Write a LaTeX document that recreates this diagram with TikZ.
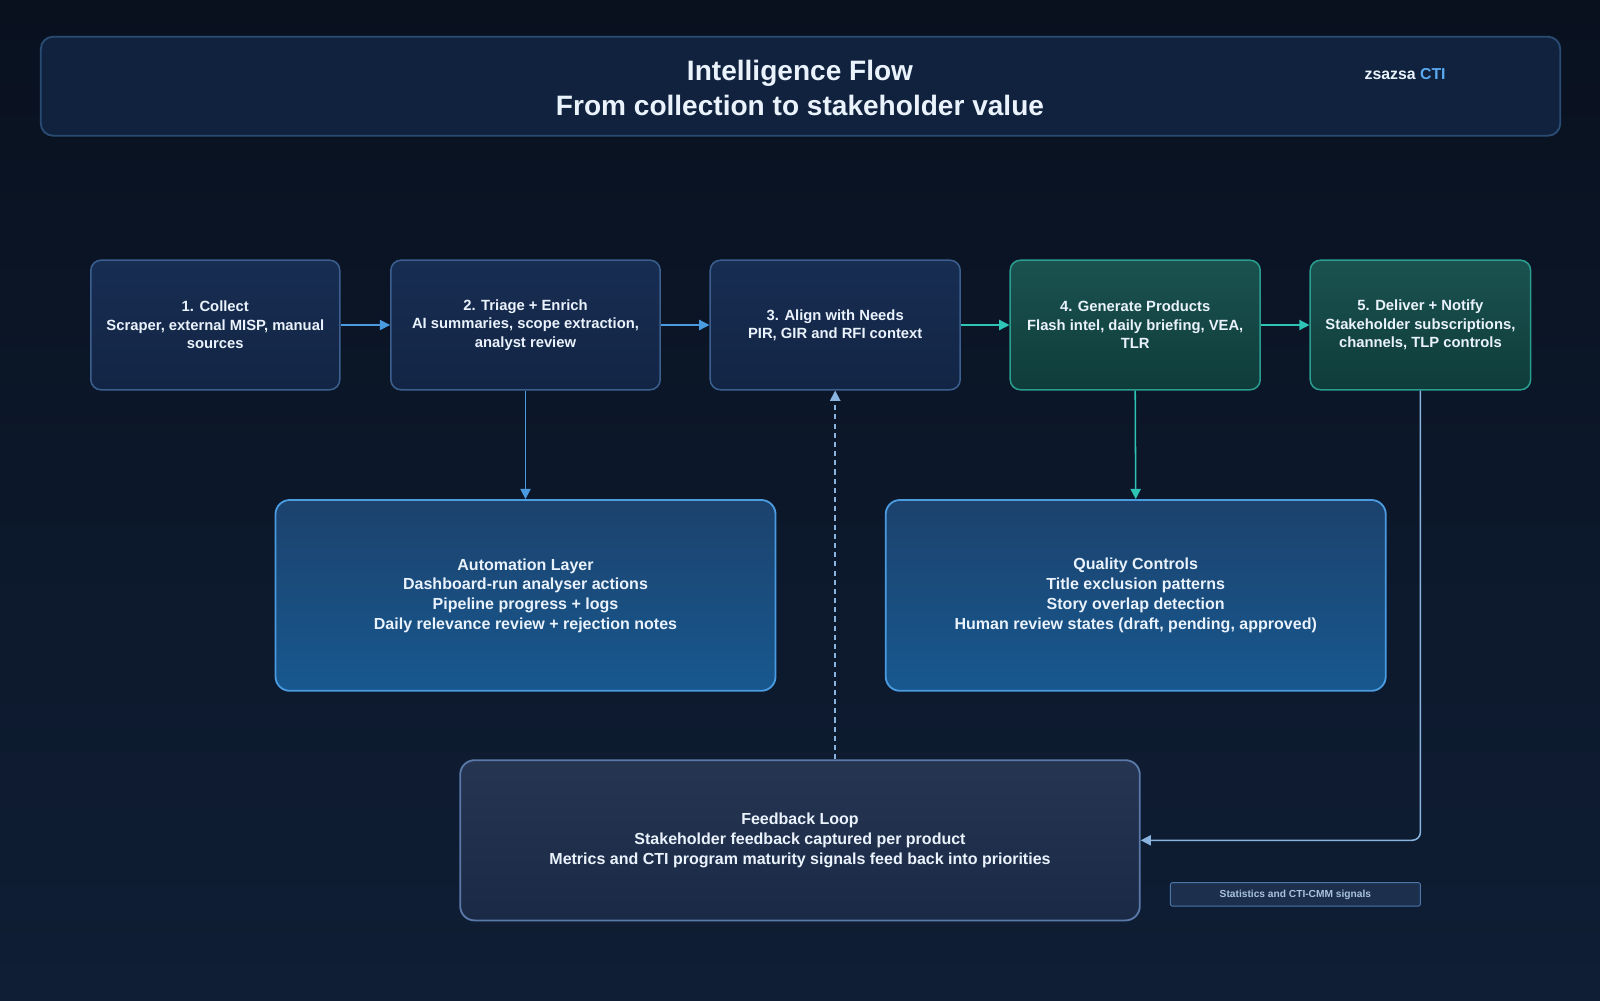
\documentclass[tikz,border=0pt]{standalone}
\usepackage{fontspec}
\setmainfont{Liberation Sans}
\usetikzlibrary{arrows.meta}
\definecolor{bgtop}{HTML}{09111F}
\definecolor{bgbot}{HTML}{0F1E35}
\definecolor{txt}{HTML}{EAF2FC}
\definecolor{blu}{HTML}{4A9BE0}
\definecolor{brandc}{HTML}{5AAAF0}
\definecolor{teal}{HTML}{2EC4B6}
\definecolor{fb}{HTML}{8AB4E0}
\definecolor{hdrd}{HTML}{2A4C74}
\definecolor{hdrf}{HTML}{10223D}
\definecolor{bsd}{HTML}{3B5F8E}
\definecolor{bst}{HTML}{172D52}
\definecolor{bsb}{HTML}{132545}
\definecolor{gsd}{HTML}{2A9D8F}
\definecolor{gst}{HTML}{1A5250}
\definecolor{gsb}{HTML}{0F3C3A}
\definecolor{lyt}{HTML}{1C426D}
\definecolor{lyb}{HTML}{17588F}
\definecolor{fbd}{HTML}{5A79A8}
\definecolor{fbt}{HTML}{253552}
\definecolor{fbb}{HTML}{1A2A46}
\definecolor{std}{HTML}{4A77A8}
\definecolor{stf}{HTML}{1C2F4D}
\definecolor{stt}{HTML}{A9C2DE}
\tikzset{
 stage/.style={rounded corners=10pt, line width=1.5pt, align=center, text=txt, font=\bfseries\fontsize{14.5}{18}\selectfont, inner sep=0pt},
 bstage/.style={stage, draw=bsd, top color=bst, bottom color=bsb},
 gstage/.style={stage, draw=gsd, top color=gst, bottom color=gsb},
 layer/.style={rounded corners=14pt, line width=1.8pt, draw=blu, top color=lyt, bottom color=lyb, align=center, text=txt, font=\bfseries\fontsize{15.7}{19.3}\selectfont},
 arr/.style={line width=1.5pt, -{Triangle[length=10pt,width=10pt]}},
}
\begin{document}
\begin{tikzpicture}[x=1pt,y=-1pt]
\fill[top color=bgtop,bottom color=bgbot] (0,0) rectangle (1568,980);
\useasboundingbox (0,0) rectangle (1568,980);
\draw[rounded corners=12pt, line width=1.8pt, draw=hdrd, fill=hdrf] (40,36) rectangle (1529,133);
\node[text=txt, font=\bfseries\fontsize{27.5}{34}\selectfont, align=center] (title) at (784,86) {Intelligence Flow\\From collection to stakeholder value};
\node[text=txt, font=\bfseries\fontsize{15.5}{18}\selectfont] (brand) at (1377,73) {zsazsa \textcolor{brandc}{CTI}};

\node[bstage, minimum width=244pt, minimum height=127pt] (b1) at (211,318.5) {1. Collect\\Scraper, external MISP, manual\\sources};
\node[bstage, minimum width=264pt, minimum height=127pt] (b2) at (515,318.5) {2. Triage + Enrich\\AI summaries, scope extraction,\\analyst review};
\node[bstage, minimum width=245pt, minimum height=127pt] (b3) at (818.5,318.5) {3. Align with Needs\\PIR, GIR and RFI context};
\node[gstage, minimum width=245pt, minimum height=127pt] (b4) at (1112.5,318.5) {4. Generate Products\\Flash intel, daily briefing, VEA,\\TLR};
\node[gstage, minimum width=216pt, minimum height=127pt] (b5) at (1392,318.5) {5. Deliver + Notify\\Stakeholder subscriptions,\\channels, TLP controls};

\node[layer, minimum width=490pt, minimum height=187pt] (auto) at (515,583.5) {Automation Layer\\Dashboard-run analyser actions\\Pipeline progress + logs\\Daily relevance review + rejection notes};
\node[layer, minimum width=490pt, minimum height=187pt] (qc) at (1113,583.5) {Quality Controls\\Title exclusion patterns\\Story overlap detection\\Human review states (draft, pending, approved)};
\node[rounded corners=14pt, line width=1.8pt, draw=fbd, top color=fbt, bottom color=fbb, align=center, text=txt, font=\bfseries\fontsize{15.7}{19.3}\selectfont, minimum width=666pt, minimum height=157pt] (fbk) at (784,823.5) {Feedback Loop\\Stakeholder feedback captured per product\\Metrics and CTI program maturity signals feed back into priorities};
\node[rounded corners=2pt, line width=0.9pt, draw=std, fill=stf, text=stt, font=\bfseries\fontsize{10}{12}\selectfont, minimum width=245pt, minimum height=23pt] (stats) at (1269.5,876.5) {Statistics and CTI-CMM signals};

\draw[arr, blu] (b1) -- (b2);
\draw[arr, blu] (b2) -- (b3);
\draw[arr, teal] (b3) -- (b4);
\draw[arr, teal] (b4) -- (b5);
\draw[arr, blu] (b2) -- (auto);
\draw[arr, teal] (b4.south) -- (qc.north);
\draw[arr, fb, dash pattern=on 5pt off 4pt] (fbk.north -| b3.south) -- (b3.south);
\draw[arr, fb, rounded corners=8pt] (b5.south) -- (1392,823.5) -- (fbk.east);
\end{tikzpicture}
\end{document}
